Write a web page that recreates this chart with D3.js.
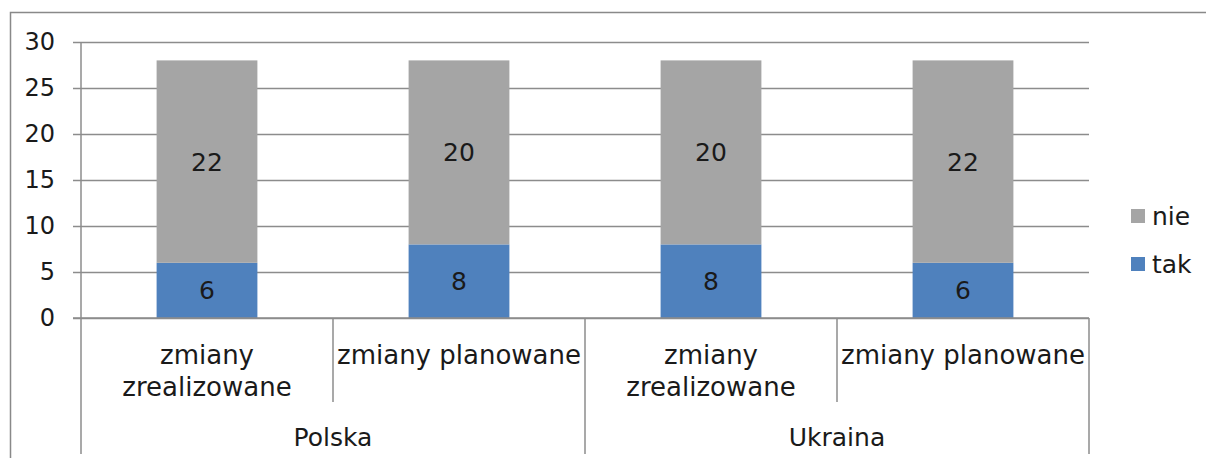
<!DOCTYPE html>
<html>
<head>
<meta charset="utf-8">
<script src="https://cdn.jsdelivr.net/npm/d3@7"></script>
<style>
  html, body { margin: 0; padding: 0; background: #fff; }
  svg text { font-family: "DejaVu Sans", sans-serif; fill: #1a1a1a; }
</style>
</head>
<body>
<svg id="chart" width="1206" height="458"></svg>
<script>
/* ---------- data ---------- */
var categories = ["zmiany zrealizowane", "zmiany planowane", "zmiany zrealizowane", "zmiany planowane"];
var groups = ["Polska", "Ukraina"];
var series = ["tak", "nie"];
var takValues = [6, 8, 8, 6];
var nieValues = [22, 20, 20, 22];
var yTicks = [0, 5, 10, 15, 20, 25, 30];
var colors = { tak: "#4F81BD", nie: "#A5A5A5" };

/* ---------- setup ---------- */
var svg = d3.select("#chart"),
    width = +svg.attr("width"),
    height = +svg.attr("height"),
    plotLeft = 81, plotRight = 1089, plotTop = 42, plotBottom = 318;

var rows = categories.map(function (c, i) {
    return { key: i, cat: c, tak: takValues[i], nie: nieValues[i] };
});

var x = d3.scaleBand()
    .domain(d3.range(categories.length))
    .range([plotLeft, plotRight])
    .paddingInner(0.6)
    .paddingOuter(0.3);
var slot = d3.scaleBand().domain(d3.range(categories.length)).range([plotLeft, plotRight]);
var y = d3.scaleLinear().domain([0, 30]).range([plotBottom, plotTop]);

var stack = d3.stack().keys(series)(rows);

// outer frame (cropped)
svg.append("path")
    .attr("d", "M10.5," + height + "V12.5H" + width)
    .attr("fill", "none").attr("stroke", "#898989").attr("stroke-width", 1.5);

// gridlines + y axis
var yAxis = d3.axisLeft(y).tickValues(yTicks).tickSize(-(plotRight - plotLeft)).tickPadding(26);
var gy = svg.append("g").attr("transform", "translate(" + plotLeft + ",0)").call(yAxis);
gy.select(".domain").remove();
gy.selectAll(".tick line").attr("stroke", "#8c8c8c").attr("stroke-width", 1.5).attr("x1", -8);
gy.selectAll(".tick text").attr("font-size", 24).attr("font-family", "DejaVu Sans").attr("fill", "#1a1a1a");

// bars
var layer = svg.append("g").selectAll("g").data(stack).join("g")
    .attr("fill", function (d) { return colors[d.key]; });
layer.selectAll("rect").data(function (d) { return d; }).join("rect")
    .attr("x", function (d) { return x(d.data.key); })
    .attr("width", x.bandwidth())
    .attr("y", function (d) { return y(d[1]); })
    .attr("height", function (d) { return y(d[0]) - y(d[1]); });

// data labels
svg.append("g").selectAll("g").data(stack).join("g")
    .selectAll("text").data(function (d) { return d; }).join("text")
    .attr("x", function (d) { return x(d.data.key) + x.bandwidth() / 2; })
    .attr("y", function (d) { return y((d[0] + d[1]) / 2); })
    .attr("dy", "0.36em")
    .attr("text-anchor", "middle")
    .attr("font-size", 25)
    .text(function (d) { return d[1] - d[0]; });

// axis lines
var ax = svg.append("g").attr("stroke", "#8c8c8c").attr("stroke-width", 1.5);
ax.append("line").attr("x1", plotLeft).attr("x2", plotLeft).attr("y1", plotTop).attr("y2", plotBottom);
ax.append("line").attr("x1", plotLeft - 8).attr("x2", plotRight).attr("y1", plotBottom).attr("y2", plotBottom);
d3.range(categories.length + 1).forEach(function (i) {
    var xp = i < categories.length ? slot(i) : plotRight;
    var long = i % 2 === 0;
    ax.append("line").attr("x1", xp).attr("x2", xp)
        .attr("y1", plotBottom).attr("y2", long ? 454 : 402);
});

// category labels
var catLabels = svg.append("g").selectAll("text").data(rows).join("text")
    .attr("x", function (d) { return slot(d.key) + slot.bandwidth() / 2; })
    .attr("y", 364)
    .attr("text-anchor", "middle")
    .attr("font-size", 26);
catLabels.each(function (d) {
    var t = d3.select(this);
    var w = t.text(d.cat).node().getComputedTextLength();
    if (w > slot.bandwidth() - 4) {
        var parts = d.cat.split(" ");
        t.text(null);
        parts.forEach(function (p, j) {
            t.append("tspan").attr("x", slot(d.key) + slot.bandwidth() / 2)
                .attr("dy", j === 0 ? 0 : 32).text(p);
        });
    }
});

// group labels
svg.append("g").selectAll("text").data(groups).join("text")
    .attr("x", function (d, i) { return slot(i * 2) + slot.bandwidth(); })
    .attr("y", 446)
    .attr("text-anchor", "middle")
    .attr("font-size", 25)
    .text(function (d) { return d; });

// legend
var legend = svg.append("g").selectAll("g").data(series.slice().reverse()).join("g")
    .attr("transform", function (d, i) { return "translate(1131," + (209 + i * 48) + ")"; });
legend.append("rect").attr("width", 14).attr("height", 14)
    .attr("fill", function (d) { return colors[d]; });
legend.append("text").attr("x", 21).attr("y", 7).attr("dy", "0.36em")
    .attr("font-size", 25).text(function (d) { return d; });
</script>
</body>
</html>
